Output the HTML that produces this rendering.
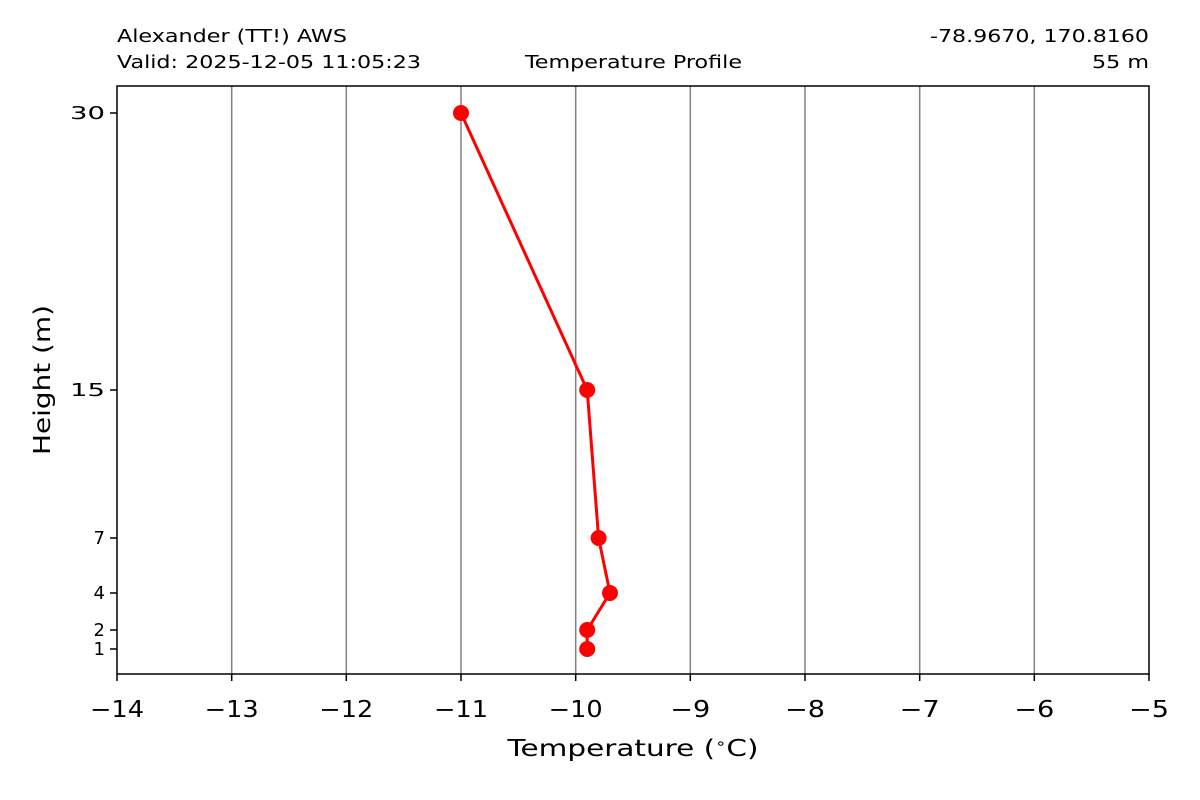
<!DOCTYPE html>
<html><head><meta charset="utf-8"><style>body{margin:0;background:#fff}svg{display:block}text{font-family:"DejaVu Sans","Liberation Sans",sans-serif;fill:#000}</style></head>
<body>
<svg width="1200" height="800" viewBox="0 0 1200 800" xmlns="http://www.w3.org/2000/svg">
<rect width="1200" height="800" fill="#fff"/>
<g stroke="#808080" stroke-width="1.5">
<line x1="231.7" y1="86" x2="231.7" y2="674"/>
<line x1="346.3" y1="86" x2="346.3" y2="674"/>
<line x1="461" y1="86" x2="461" y2="674"/>
<line x1="575.7" y1="86" x2="575.7" y2="674"/>
<line x1="690.3" y1="86" x2="690.3" y2="674"/>
<line x1="805" y1="86" x2="805" y2="674"/>
<line x1="919.7" y1="86" x2="919.7" y2="674"/>
<line x1="1034.3" y1="86" x2="1034.3" y2="674"/>
</g>
<polyline points="461,113 587.2,390 598.6,538 610,593 587.2,630 587.2,649" fill="none" stroke="#ff0000" stroke-width="3"/>
<g fill="#ff0000">
<circle cx="461" cy="113" r="8"/><circle cx="587.2" cy="390" r="8"/><circle cx="598.6" cy="538" r="8"/><circle cx="610" cy="593" r="8"/><circle cx="587.2" cy="630" r="8"/><circle cx="587.2" cy="649" r="8"/>
</g>
<rect x="117" y="86" width="1032" height="588" fill="none" stroke="#000" stroke-width="1.5"/>
<g stroke="#000" stroke-width="1.5">
<line x1="117" y1="674" x2="117" y2="681"/><line x1="231.7" y1="674" x2="231.7" y2="681"/><line x1="346.3" y1="674" x2="346.3" y2="681"/><line x1="461" y1="674" x2="461" y2="681"/><line x1="575.7" y1="674" x2="575.7" y2="681"/><line x1="690.3" y1="674" x2="690.3" y2="681"/><line x1="805" y1="674" x2="805" y2="681"/><line x1="919.7" y1="674" x2="919.7" y2="681"/><line x1="1034.3" y1="674" x2="1034.3" y2="681"/><line x1="1149" y1="674" x2="1149" y2="681"/>
<line x1="110" y1="113" x2="117" y2="113"/><line x1="110" y1="390" x2="117" y2="390"/><line x1="110" y1="538" x2="117" y2="538"/><line x1="110" y1="593" x2="117" y2="593"/><line x1="110" y1="630" x2="117" y2="630"/><line x1="110" y1="649" x2="117" y2="649"/>
</g>
<g font-size="23" text-anchor="middle" lengthAdjust="spacingAndGlyphs">
<text x="117" y="717" textLength="54" lengthAdjust="spacingAndGlyphs">−14</text><text x="231.7" y="717" textLength="54" lengthAdjust="spacingAndGlyphs">−13</text><text x="346.3" y="717" textLength="54" lengthAdjust="spacingAndGlyphs">−12</text><text x="461" y="717" textLength="54" lengthAdjust="spacingAndGlyphs">−11</text><text x="575.7" y="717" textLength="54" lengthAdjust="spacingAndGlyphs">−10</text><text x="690.3" y="717" textLength="40" lengthAdjust="spacingAndGlyphs">−9</text><text x="805" y="717" textLength="40" lengthAdjust="spacingAndGlyphs">−8</text><text x="919.7" y="717" textLength="40" lengthAdjust="spacingAndGlyphs">−7</text><text x="1034.3" y="717" textLength="40" lengthAdjust="spacingAndGlyphs">−6</text><text x="1149" y="717" textLength="40" lengthAdjust="spacingAndGlyphs">−5</text>
</g>
<g font-size="18" text-anchor="end">
<text x="105" y="119" textLength="35" lengthAdjust="spacingAndGlyphs">30</text><text x="105" y="396" textLength="35" lengthAdjust="spacingAndGlyphs">15</text><text x="105" y="544">7</text><text x="105" y="599">4</text><text x="105" y="636">2</text><text x="105" y="655">1</text>
</g>
<text x="633" y="756" font-size="23" text-anchor="middle" textLength="251" lengthAdjust="spacingAndGlyphs">Temperature (<tspan font-size="14" dy="-8">∘</tspan><tspan dy="8">C)</tspan></text>
<text transform="translate(50,380) rotate(-90)" font-size="23" text-anchor="middle" textLength="150" lengthAdjust="spacingAndGlyphs">Height (m)</text>
<g font-size="18">
<text x="117" y="42" textLength="230" lengthAdjust="spacingAndGlyphs">Alexander (TT!) AWS</text>
<text x="117" y="68" textLength="304" lengthAdjust="spacingAndGlyphs">Valid: 2025-12-05 11:05:23</text>
<text x="633.5" y="68" text-anchor="middle" textLength="217" lengthAdjust="spacingAndGlyphs">Temperature Profile</text>
<text x="1149" y="42" text-anchor="end" textLength="219" lengthAdjust="spacingAndGlyphs">-78.9670, 170.8160</text>
<text x="1149" y="68" text-anchor="end" textLength="57" lengthAdjust="spacingAndGlyphs">55 m</text>
</g>
</svg>
</body></html>
